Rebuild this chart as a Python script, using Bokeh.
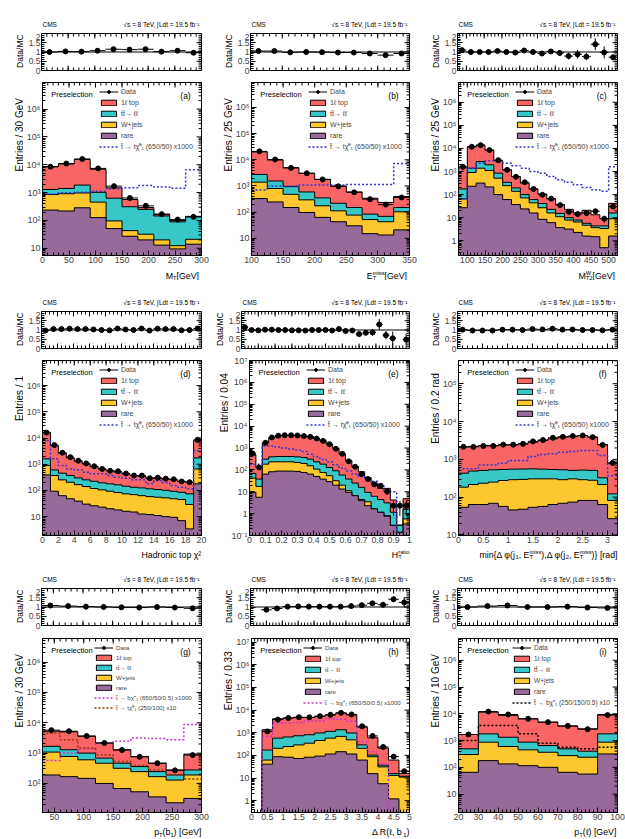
import math
import numpy as np
from bokeh.plotting import figure
from bokeh.layouts import row, column
from bokeh.models import FixedTicker, Label, Legend, LegendItem, Span, Range1d
from bokeh.embed import file_html
from bokeh.resources import INLINE

FONT = "Liberation Sans"
COL_1L, COL_TT, COL_WJ, COL_RARE = "#f96565", "#37c7c7", "#fdc730", "#986a99"
SIG_BLUE, SIG_MAG, SIG_BROWN, SIG_BLACK = "#3232d0", "#cc33cc", "#993300", "#000000"

L_DATA, L_1L, L_TT, L_WJ, L_RARE = "Data", "1\u2113 top", "tt\u0304\u2192 \u2113\u2113", "W+jets", "rare"
L_SIG_T = "t\u0303 \u2192 t\u03c7\u0303\u2070\u2081 (650/50) x1000"
L_SIG_BC = "t\u0303 \u2192 b\u03c7\u0303\u207a\u2081 (650/50/0.5) x1000"
L_SIG_T10 = "t\u0303 \u2192 t\u03c7\u0303\u2070\u2081 (250/100) x10"
L_SIG_BC10 = "t\u0303 \u2192 b\u03c7\u0303\u207a\u2081 (250/150/0.5) x10"

# Stacked yields: *_ALL = all backgrounds, *_TTLL = rare + W+jets + tt->ll,
# *_WJ = rare + W+jets, *_RARE = rare only.  *_RATIO = data / MC.

# (a) M_T
MT_EDGES = [0, 30, 60, 90, 120, 150, 180, 210, 240, 270, 300]
MT_ALL = [8500, 10700, 15700, 6900, 1480, 565, 290, 165, 100, 140]
MT_TTLL = [1290, 1410, 1860, 1020, 630, 310, 250, 145, 89, 135]
MT_WJ = [850, 910, 970, 455, 96, 43, 32, 20, 12.4, 21]
MT_RARE = [235, 218, 285, 126, 51, 27, 20, 13, 9.5, 14]
MT_RATIO = [1.0, 1.03, 1.02, 1.07, 1.15, 1.13, 1.15, 1.02, 1.07, 0.96]
MT_SIG = [890, 990, 1020, 1120, 1380, 1480, 1780, 1590, 1420, 6600]

# (b) E_T^miss
MET_EDGES = [100, 125, 150, 175, 200, 225, 250, 275, 300, 325, 350]
MET_ALL = [20000, 9800, 5000, 3050, 1790, 1000, 590, 340, 234, 395]
MET_TTLL = [2750, 1550, 940, 590, 350, 218, 150, 84, 69, 150]
MET_WJ = [1400, 800, 480, 295, 175, 112, 77, 52, 43, 103]
MET_RARE = [330, 245, 150, 97, 63, 43, 30, 15, 13.4, 21]
MET_RATIO = [1.05, 1.05, 0.98, 1.0, 0.99, 0.97, 0.97, 0.92, 0.83, 0.92]
MET_SIG = [700, 1000, 1000, 1090, 1100, 1100, 1130, 1130, 1130, 7200]

# (c) M_T2^W
MT2W_EDGES = [75, 100, 125, 150, 175, 200, 225, 250, 275, 300, 325, 350, 375,
              400, 425, 450, 475, 500, 525]
MT2W_ALL = [1450, 11800, 13900, 8500, 2950, 1180, 610, 316, 175, 107, 65, 37, 23,
            16.3, 21, 13.4, 9.2, 42]
MT2W_TTLL = [175, 1390, 2700, 1950, 850, 340, 195, 100, 61, 41, 23, 15.3, 10, 7.9,
             5.7, 4.4, 4.4, 16]
MT2W_WJ = [65, 910, 1390, 1100, 515, 245, 139, 72, 44, 27, 16, 11, 7.9, 6.5, 4.7,
           3.7, 3.4, 9]
MT2W_RARE = [27, 230, 316, 215, 100, 61, 37, 24, 16, 8.5, 6.1, 3.7, 3.2, 2.3, 1.6,
             1.5, 0.5, 1.6]
MT2W_RATIO = [1.1, 1.0, 1.0, 1.0, 1.05, 1.0, 0.97, 1.08, 1.0, 0.92, 1.03, 0.95, 0.78,
              0.88, 0.75, 1.42, 0.98, 0.72]
MT2W_SIG = [65, 1390, 2300, 2950, 2700, 2300, 1800, 1390, 1000, 850, 610, 440, 340,
            270, 205, 163, 139, 1630]

# (d) hadronic top chi2
CHI2_EDGES = list(range(0, 21))
CHI2_ALL = [16600, 5100, 2630, 1740, 1300, 1020, 810, 660, 570, 495, 430, 370, 340,
            300, 285, 268, 253, 224, 205, 7900]
CHI2_TTLL = [1600, 605, 455, 370, 300, 253, 224, 195, 178, 163, 145, 132, 125, 115,
             108, 101, 93, 85, 74, 1740]
CHI2_WJ = [890, 370, 253, 205, 166, 140, 118, 105, 93, 83, 74, 69, 63, 58, 55, 52,
           48, 45, 29, 660]
CHI2_RARE = [390, 93, 63, 48, 39, 30, 26, 23, 20, 18, 16, 15, 12.6, 12, 11, 10, 9.4,
             7, 3.4, 178]
CHI2_RATIO = [0.97, 1.05, 1.05, 1.07, 1.05, 1.05, 1.03, 1.0, 0.98, 1.08, 1.03, 1.0,
              1.08, 0.97, 1.07, 1.05, 1.05, 0.98, 1.0, 1.08]
CHI2_SIG = [8000, 1600, 890, 660, 600, 495, 430, 430, 370, 318, 290, 253, 253, 178,
            240, 200, 153, 132, 115, 3300]

# (e) H_T^ratio
HTR_EDGES = [round(0.04 * i, 2) for i in range(26)]
HTR_ALL = [487, 129, 1774, 2995, 3567, 3828, 3828, 3828, 3567, 3327, 2698, 2112,
           1489, 946, 522, 260, 143, 82, 45, 25, 14.3, 14.3, 4.2, 0.3, 4.8]
HTR_TTLL = [69, 38, 309, 395, 409, 409, 409, 395, 368, 309, 234, 183, 129, 91, 58,
            38, 25, 15.9, 9.4, 6.2, 4.4, 3.1, 1.15, 0.29, 1.6]
HTR_WJ = [42, 17.6, 183, 234, 234, 234, 234, 218, 196, 154, 108, 76, 54, 32, 20,
          11.2, 6.6, 4.4, 3.5, 1.64, 1.15, 0.81, 0.29, 0.14, 0.57]
HTR_RARE = [9.4, 5.6, 64, 82, 88, 88, 88, 85, 76, 64, 50, 38, 29, 20, 13.3, 9.4,
            6.6, 3.9, 2.3, 1.64, 1.15, 0.76, 0.29, 0.14, 0.34]
HTR_RATIO = [1.15, 1.0, 0.98, 1.02, 1.02, 1.0, 1.0, 0.98, 0.98, 0.97, 1.0, 1.0, 1.0,
             0.97, 1.05, 0.95, 0.97, 0.78, 0.85, 0.87, 1.3, 0.72, 0.55, 7.7, 0.48]
HTR_SIG = [183, 183, 1250, 1250, 1100, 1000, 900, 820, 700, 520, 400, 300, 230,
           170, 120, 90, 65, 50, 38, 30, 22, 10, 10, 0, 0]

# (f) min delta phi
DPHI_EDGES = [round(0.2 * i, 1) for i in range(17)]
DPHI_ALL = [2100, 2200, 2330, 2330, 2400, 2400, 2570, 2840, 3150, 3480, 3860, 4000,
            4270, 3860, 2460, 790]
DPHI_TTLL = [430, 490, 510, 530, 540, 550, 555, 560, 550, 540, 530, 510, 520, 510,
             325, 122]
DPHI_WJ = [184, 216, 234, 250, 276, 290, 295, 305, 305, 305, 290, 305, 290, 280,
           216, 82]
DPHI_RARE = [54, 64, 64, 69, 57, 46, 48, 54, 57, 64, 69, 74, 82, 82, 64, 27]
DPHI_RATIO = [1.02, 0.97, 0.97, 0.97, 1.02, 1.02, 1.0, 1.05, 1.03, 1.07, 1.02, 1.03,
              1.0, 1.0, 0.98, 1.02]
DPHI_SIG = [560, 560, 710, 710, 790, 930, 930, 1190, 1340, 1400, 1540, 1600, 1700,
            1700, 1260, 370]

# (g) p_T(b_1)
PTB_EDGES = [30, 60, 90, 120, 150, 180, 210, 240, 270, 300]
PTB_ALL = [5270, 5010, 3590, 2150, 1290, 774, 464, 278, 927]
PTB_TTLL = [1670, 1290, 1000, 681, 464, 359, 245, 190, 278]
PTB_WJ = [1080, 774, 600, 464, 316, 245, 167, 129, 190]
PTB_RARE = [190, 167, 147, 100, 68, 53, 36, 23, 32]
PTB_RATIO = [1.08, 1.05, 1.02, 1.0, 0.98, 0.97, 1.0, 0.97, 0.93]
PTB_SIG_BC = [570, 1000, 1390, 2150, 2450, 3160, 3000, 2780, 8800]
PTB_SIG_T = [4640, 2780, 1470, 880, 527, 388, 278, 190, 139]

# (h) delta R(l, b_1)
DRLB_EDGES = [i / 3 for i in range(16)]
DRLB_ALL = [0, 1350, 4130, 4400, 4700, 4700, 5300, 6100, 7400, 6100, 1750, 600, 210,
            62, 16]
DRLB_TTLL = [0, 172, 575, 650, 735, 815, 975, 1150, 1350, 975, 290, 103, 37, 15.6, 12]
DRLB_WJ = [0, 62, 205, 245, 290, 345, 455, 575, 690, 485, 205, 87, 31, 13, 11]
DRLB_RARE = [0, 41, 87, 83, 73, 83, 93, 115, 145, 115, 62, 15.6, 5.6, 1.2, 0]
DRLB_RATIO = [float("nan"), 0.85, 0.92, 1.02, 1.03, 1.02, 1.02, 1.02, 1.02, 1.05, 1.1,
              1.2, 1.12, 1.42, 1.25]
DRLB_SIG = [0, 690, 2700, 2700, 2800, 3200, 3300, 4100, 3900, 3200, 400, 145, 41, 0, 0]

# (i) p_T(l)
PTL_EDGES = [20, 30, 40, 50, 60, 70, 80, 90, 100]
PTL_ALL = [1680, 11500, 8700, 6500, 4870, 3460, 2740, 9440]
PTL_TTLL = [490, 1780, 1330, 870, 650, 490, 400, 1780]
PTL_WJ = [300, 870, 600, 450, 365, 273, 238, 870]
PTL_RARE = [65, 178, 134, 115, 100, 65, 56, 316]
PTL_RATIO = [1.0, 1.05, 1.08, 1.0, 1.0, 1.02, 0.97, 0.95]
PTL_SIG = [1000, 3650, 3650, 1780, 790, 560, 490, 560]


def ticks(start, stop, step):
    n = int(round((stop - start) / step))
    return [round(start + i * step, 4) for i in range(n + 1)]


PANELS = [
    dict(tag="(a)", edges=MT_EDGES, stack=[MT_ALL, MT_TTLL, MT_WJ, MT_RARE],
         ratio=MT_RATIO, signals=[(MT_SIG, SIG_BLUE, L_SIG_T)], yrange=(5.5, 9e6),
         xmajor=ticks(0, 300, 50), xminor=ticks(0, 300, 10),
         ytitle="Entries /  30 GeV",
         xtitle=[("M", "n"), ("T", "sub"), (" [GeV]", "n")]),
    dict(tag="(b)", edges=MET_EDGES, stack=[MET_ALL, MET_TTLL, MET_WJ, MET_RARE],
         ratio=MET_RATIO, signals=[(MET_SIG, SIG_BLUE, L_SIG_T)], yrange=(2.2, 9e6),
         xmajor=ticks(100, 350, 50), xminor=ticks(100, 350, 10),
         ytitle="Entries /  25 GeV",
         xtitle=[("E", "n"), (("T", "miss"), "subsup"), (" [GeV]", "n")]),
    dict(tag="(c)", edges=MT2W_EDGES, stack=[MT2W_ALL, MT2W_TTLL, MT2W_WJ, MT2W_RARE],
         ratio=MT2W_RATIO, signals=[(MT2W_SIG, SIG_BLUE, L_SIG_T)], yrange=(0.23, 7.2e6),
         xmajor=ticks(100, 500, 50), xminor=ticks(80, 520, 10),
         ytitle="Entries /  25 GeV",
         xtitle=[("M", "n"), (("T2", "W"), "subsup"), (" [GeV]", "n")]),
    dict(tag="(d)", edges=CHI2_EDGES, stack=[CHI2_ALL, CHI2_TTLL, CHI2_WJ, CHI2_RARE],
         ratio=CHI2_RATIO, signals=[(CHI2_SIG, SIG_BLUE, L_SIG_T)], yrange=(1.9, 9.1e6),
         xmajor=ticks(0, 20, 2), xminor=ticks(0, 20, 0.5),
         ytitle="Entries /  1",
         xtitle=[("Hadronic top \u03c7\u00b2", "n")]),
    dict(tag="(e)", edges=HTR_EDGES, stack=[HTR_ALL, HTR_TTLL, HTR_WJ, HTR_RARE],
         ratio=HTR_RATIO, signals=[(HTR_SIG, SIG_BLUE, L_SIG_T)], yrange=(0.1, 1e7),
         xmajor=ticks(0, 1, 0.1), xminor=ticks(0, 1, 0.02),
         ytitle="Entries / 0.04", rl=30, lbm=20,
         xtitle=[("H", "n"), (("T", "ratio"), "subsup")]),
    dict(tag="(f)", edges=DPHI_EDGES, stack=[DPHI_ALL, DPHI_TTLL, DPHI_WJ, DPHI_RARE],
         ratio=DPHI_RATIO, signals=[(DPHI_SIG, SIG_BLUE, L_SIG_T)], yrange=(9.7, 4.1e5),
         xmajor=ticks(0, 3, 0.5), xminor=ticks(0, 3.2, 0.1),
         ytitle="Entries / 0.2 rad",
         xtitle=[("min{\u0394 \u03c6(j", "n"), ("1", "sub"), (", E", "n"),
                 (("T", "miss"), "subsup"), ("),\u0394 \u03c6(j", "n"), ("2", "sub"),
                 (", E", "n"), (("T", "miss"), "subsup"), (")} [rad]", "n")]),
    dict(tag="(g)", edges=PTB_EDGES, stack=[PTB_ALL, PTB_TTLL, PTB_WJ, PTB_RARE],
         ratio=PTB_RATIO,
         signals=[(PTB_SIG_BC, SIG_MAG, L_SIG_BC), (PTB_SIG_T, SIG_BROWN, L_SIG_T10)],
         yrange=(11, 6e6), xmajor=ticks(50, 300, 50), xminor=ticks(30, 300, 10),
         ytitle="Entries /  30 GeV", legfont=6.2, legx=52,
         xtitle=[("p", "n"), ("T", "sub"), ("(b", "n"), ("1", "sub"), (") [GeV]", "n")]),
    dict(tag="(h)", edges=DRLB_EDGES, stack=[DRLB_ALL, DRLB_TTLL, DRLB_WJ, DRLB_RARE],
         ratio=DRLB_RATIO, signals=[(DRLB_SIG, SIG_MAG, L_SIG_BC)], yrange=(0.3, 1.45e7),
         xmajor=ticks(0, 5, 0.5), xminor=ticks(0, 5, 0.1),
         ytitle="Entries / 0.33", legfont=6.2, legx=52,
         xtitle=[("\u0394 R(\u2113, b", "n"), ("1", "sub"), (")", "n")]),
    dict(tag="(i)", edges=PTL_EDGES, stack=[PTL_ALL, PTL_TTLL, PTL_WJ, PTL_RARE],
         ratio=PTL_RATIO, signals=[(PTL_SIG, SIG_BLACK, L_SIG_BC10)], yrange=(2.05, 6.5e6),
         xmajor=ticks(20, 100, 10), xminor=ticks(20, 100, 2),
         ytitle="Entries /  10 GeV", legfont=6.5, legx=54,
         xtitle=[("p", "n"), ("T", "sub"), ("(\u2113) [GeV]", "n")]),
]

# page geometry (pixels)
COLS = [dict(w=209, left=39, right=8), dict(w=208, left=39, right=8),
        dict(w=208, left=38, right=8)]
ROWS = [dict(rh=76, rtop=33, rbot=6, mh=204, mtop=6, mbot=25, base=20),
        dict(rh=74, rtop=31, rbot=6, mh=206, mtop=6, mbot=25, base=15.5),
        dict(rh=72, rtop=28, rbot=7, mh=207, mtop=6, mbot=27, base=17)]
TICKLAB_H = 11      # room under the main frame taken by the x tick labels
RATIO_LB = 14       # room left of the ratio frame for its tick labels
MAIN_LB = 16        # room left of the main frame for its tick labels

CW = {" ": .278, "[": .278, "]": .278, "(": .333, ")": .333, "{": .334, "}": .334,
      ",": .278, ".": .278, "/": .278, "M": .833, "T": .611, "E": .667, "G": .778,
      "V": .667, "H": .722, "R": .722, "W": .944, "a": .556, "b": .556, "c": .5,
      "d": .556, "e": .556, "i": .222, "j": .222, "l": .222, "m": .833, "n": .556,
      "o": .556, "p": .556, "r": .333, "s": .5, "t": .278, "\u0394": .668,
      "\u03c6": .65, "\u03c7": .55, "\u2113": .45, "\u00b2": .333}


def text_w(s, size):
    return size * sum(CW.get(ch, .556) for ch in s)


SUP = str.maketrans("-0123456789", "\u207b\u2070\u00b9\u00b2\u00b3\u2074\u2075\u2076\u2077\u2078\u2079")


def pow_label(e):
    if e == 0:
        return "1"
    if e == 1:
        return "10"
    return "10" + str(e).translate(SUP)


def style_axis(ax, size="9px", standoff=2):
    ax.major_tick_in = 5
    ax.major_tick_out = 0
    ax.minor_tick_in = 3
    ax.minor_tick_out = 0
    ax.axis_line_color = "black"
    ax.major_tick_line_color = "black"
    ax.minor_tick_line_color = "black"
    ax.major_label_text_font = FONT
    ax.major_label_standoff = standoff
    ax.major_label_text_font_size = size


def add_text(p, x, y, text, size, align="left", baseline="middle", angle=0.0):
    p.add_layout(Label(x=x, y=y, text=text, text_font=FONT, text_font_size=f"{size}px",
                       text_align=align, text_baseline=baseline, angle=angle,
                       text_color="black"))


def text_fig(w, h):
    """A blank canvas in pixel coordinates that carries the texts around a pad."""
    f = figure(width=w, height=h, x_range=Range1d(0, w), y_range=Range1d(0, h),
               x_axis_type=None, y_axis_type=None, output_backend="svg",
               toolbar_location=None, min_border=0)
    f.outline_line_color = None
    return f


def mirror_ticks(p, fx, fy, W, H, xmajor, xminor, ymajor, yminor, top, bottom, right):
    """Inward tick marks on the sides that carry no labelled axis."""
    xs0, ys0, xs1, ys1 = [], [], [], []
    for vals, ln in ((xmajor, 5), (xminor, 3)):
        for v in vals:
            if top:
                xs0.append(v); ys0.append(fy(H)); xs1.append(v); ys1.append(fy(H - ln))
            if bottom:
                xs0.append(v); ys0.append(fy(0)); xs1.append(v); ys1.append(fy(ln))
    if right:
        for vals, ln in ((ymajor, 5), (yminor, 3)):
            for v in vals:
                xs0.append(fx(W)); ys0.append(v); xs1.append(fx(W - ln)); ys1.append(v)
    p.segment(xs0, ys0, xs1, ys1, line_color="black", line_width=1)


def make_cell(P, col, rw):
    edges = np.array(P["edges"], dtype=float)
    x0, x1 = edges[0], edges[-1]
    centers = 0.5 * (edges[:-1] + edges[1:])
    lo, hi = P["yrange"]
    total = np.array(P["stack"][0], dtype=float)
    ratio = np.array(P["ratio"], dtype=float)
    data = ratio * total
    ok = np.isfinite(data) & (total > 0)
    floor = lo / 100.0
    cw = col["w"]
    rl = P.get("rl", col["left"])          # left edge of the ratio frame
    lbm = P.get("lbm", MAIN_LB)

    # ---------- header: experiment and luminosity ----------
    rW = cw - rl - col["right"]
    rH = rw["rh"] - rw["rtop"] - rw["rbot"]
    head = text_fig(cw, rw["rtop"])
    add_text(head, rl + 3, 9, "CMS", 6.5)
    add_text(head, rl + rW - 2, 9, "\u221as = 8 TeV, \u222bLdt = 19.5 fb\u207b\u00b9", 6.5,
             align="right")

    # ---------- ratio pad ----------
    sr = rl - RATIO_LB
    q = figure(width=cw - sr, height=rH + rw["rbot"], x_range=Range1d(x0, x1),
               y_range=Range1d(0, 2), output_backend="svg", toolbar_location=None,
               min_border_left=RATIO_LB, min_border_right=col["right"],
               min_border_top=0, min_border_bottom=rw["rbot"])
    q.outline_line_color = "black"
    q.grid.visible = False
    rmajor, rminor = [0, 0.5, 1, 1.5, 2], ticks(0, 2, 0.1)
    q.yaxis.ticker = FixedTicker(ticks=rmajor, minor_ticks=rminor)
    q.yaxis.major_label_overrides = {0: "0", 0.5: "0.5", 1: "1", 1.5: "1.5", 2: "2"}
    style_axis(q.yaxis[0], "8.5px", standoff=1)
    q.xaxis.visible = False
    rfx = lambda px: x0 + px * (x1 - x0) / rW
    rfy = lambda py: py * 2.0 / rH
    mirror_ticks(q, rfx, rfy, rW, rH, P["xmajor"], P["xminor"], rmajor, rminor,
                 True, True, True)
    q.add_layout(Span(location=1, dimension="width", line_color="black", line_width=1))
    rr = data[ok] / total[ok]
    re = np.sqrt(data[ok]) / total[ok]
    q.segment(edges[:-1][ok], rr, edges[1:][ok], rr, line_color="black", line_width=1)
    q.segment(centers[ok], rr - re, centers[ok], rr + re, line_color="black", line_width=1)
    q.scatter(centers[ok], rr, size=5, color="black")
    rside = text_fig(sr, rH + rw["rbot"])
    add_text(rside, sr - 5.5, (rH + rw["rbot"]) / 2 + 1, "Data/MC", 8.5, align="center",
             baseline="middle", angle=math.pi / 2)

    # ---------- main pad ----------
    sm = col["left"] - lbm
    mW = cw - col["left"] - col["right"]
    mH = rw["mh"] - rw["mtop"] - rw["mbot"]
    p = figure(width=cw - sm, height=rw["mtop"] + mH + TICKLAB_H, x_range=Range1d(x0, x1),
               y_range=Range1d(lo, hi), y_axis_type="log", output_backend="svg",
               toolbar_location=None, min_border_left=lbm,
               min_border_right=col["right"], min_border_top=rw["mtop"],
               min_border_bottom=TICKLAB_H)
    p.outline_line_color = "black"
    p.grid.visible = False
    emin, emax = math.ceil(math.log10(lo) - 1e-9), math.floor(math.log10(hi) + 1e-9)
    major = [10.0 ** e for e in range(emin, emax + 1)]
    minor = [k * 10.0 ** e for e in range(emin - 1, emax + 1) for k in range(2, 10)
             if lo <= k * 10.0 ** e <= hi]
    p.yaxis.ticker = FixedTicker(ticks=major, minor_ticks=minor)
    p.yaxis.major_label_overrides = {10.0 ** e: pow_label(e) for e in range(emin, emax + 1)}
    style_axis(p.yaxis[0], "9px", standoff=2)
    p.xaxis.ticker = FixedTicker(ticks=P["xmajor"], minor_ticks=P["xminor"])
    p.xaxis.major_label_overrides = {v: f"{v:g}" for v in P["xmajor"]}
    style_axis(p.xaxis[0], "8.8px", standoff=1)

    fx = lambda px: x0 + px * (x1 - x0) / mW
    l0, l1 = math.log10(lo), math.log10(hi)
    fy = lambda py: 10 ** (l0 + py * (l1 - l0) / mH)

    xs_step = np.repeat(edges, 2)[1:-1]
    rends = []
    for vals, colr in zip(P["stack"], [COL_1L, COL_TT, COL_WJ, COL_RARE]):
        v = np.maximum(np.array(vals, dtype=float), floor)
        px = np.concatenate([[x0], xs_step, [x1]])
        py = np.concatenate([[floor], np.repeat(v, 2), [floor]])
        rends.append(p.patch(px, py, fill_color=colr, line_color="black", line_width=1))
    sig_rends = []
    for vals, colr, lab in P["signals"]:
        v = np.maximum(np.array(vals, dtype=float), floor)
        sig_rends.append((p.line(xs_step, np.repeat(v, 2), line_color=colr, line_width=1.5,
                                 line_dash="2 2"), lab))
    d = data[ok]
    de = np.sqrt(d)
    hbar = p.segment(edges[:-1][ok], d, edges[1:][ok], d, line_color="black", line_width=1)
    p.segment(centers[ok], np.maximum(d - de, floor), centers[ok], d + de,
              line_color="black", line_width=1)
    dots = p.scatter(centers[ok], d, size=5, color="black")
    mirror_ticks(p, fx, fy, mW, mH, P["xmajor"], P["xminor"], major, minor,
                 True, False, True)

    items = [LegendItem(label=L_DATA, renderers=[hbar, dots]),
             LegendItem(label=L_1L, renderers=[rends[0]]),
             LegendItem(label=L_TT, renderers=[rends[1]]),
             LegendItem(label=L_WJ, renderers=[rends[2]]),
             LegendItem(label=L_RARE, renderers=[rends[3]])]
    items += [LegendItem(label=lab, renderers=[r]) for r, lab in sig_rends]
    n_it = len(items)
    sp = 2 if n_it < 7 else 1
    leg_h = n_it * 9 + (n_it - 1) * sp
    leg = Legend(items=items, location=(P.get("legx", 57), mH - 5 - leg_h),
                 label_text_font=FONT, label_text_font_size=f"{P.get('legfont', 7)}px",
                 glyph_width=19, glyph_height=7,
                 label_height=9, spacing=sp, padding=0, margin=0, label_standoff=3,
                 border_line_color=None, background_fill_alpha=0)
    p.add_layout(leg)

    add_text(p, fx(9), fy(mH - 12), "Preselection", 7.5)
    add_text(p, fx(mW - 11), fy(mH - 13), P["tag"], 8.5, align="right")

    mside = text_fig(sm, rw["mtop"] + mH + TICKLAB_H)
    add_text(mside, sm - 4.5, TICKLAB_H + mH - 8, P["ytitle"], 10, align="right",
             baseline="middle", angle=math.pi / 2)

    # ---------- footer: axis title, right aligned, with sub/superscripts ----------
    fh = rw["mbot"] - TICKLAB_H
    foot = text_fig(cw, fh)
    size, small = 8.8, 5.8
    segs = P["xtitle"]
    has_sup = any(kind == "subsup" for _, kind in segs)
    widths = []
    for txt, kind in segs:
        if kind == "n":
            widths.append(text_w(txt, size))
        elif kind == "subsup":
            widths.append(max(text_w(txt[0], small), text_w(txt[1], small)))
        else:
            widths.append(text_w(txt, small))
    cur = col["left"] + mW - sum(widths)
    # baseline height inside the footer, kept so that nothing is cut
    base = fh - (rw["base"] - TICKLAB_H)
    top_room = 2.7 + 1.0 * small if has_sup else 1.0 * size
    base = max(3.8, min(base, fh - top_room))
    for (txt, kind), w in zip(segs, widths):
        if kind == "n":
            add_text(foot, cur, base, txt, size, baseline="alphabetic")
        elif kind == "sub":
            add_text(foot, cur, base - 2.2, txt, small, baseline="alphabetic")
        elif kind == "sup":
            add_text(foot, cur, base + 2.7, txt, small, baseline="alphabetic")
        else:
            add_text(foot, cur, base - 2.2, txt[0], small, baseline="alphabetic")
            add_text(foot, cur, base + 2.7, txt[1], small, baseline="alphabetic")
        cur += w

    return column(head, row(rside, q, spacing=0), row(mside, p, spacing=0), foot,
                  spacing=0)


rows = []
for ri in range(3):
    cells = [make_cell(PANELS[ri * 3 + ci], COLS[ci], ROWS[ri]) for ci in range(3)]
    rows.append(row(*cells, spacing=0))
page = column(*rows, spacing=0)

with open("out.html", "w") as f:
    f.write(file_html(page, INLINE))
